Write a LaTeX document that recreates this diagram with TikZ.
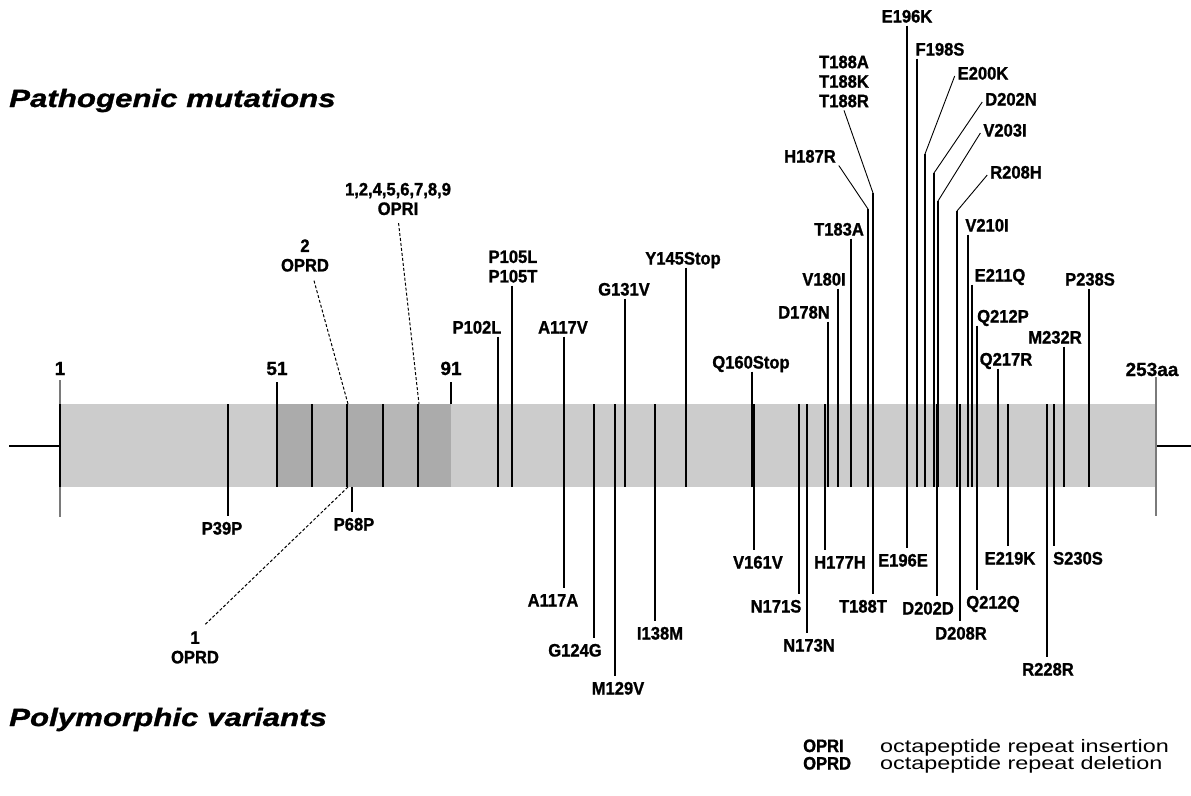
\documentclass[tikz,border=0pt]{standalone}
\usepackage{fontspec}
\setmainfont{Liberation Sans}
\newfontfamily\lblfont{Liberation Sans}[FakeStretch=0.92, BoldFeatures={FakeBold=1.2}]
\newfontfamily\numfont{Liberation Sans}[BoldFeatures={FakeBold=0.8}]
\newfontfamily\headfont{Liberation Sans}[FakeStretch=1.25, BoldItalicFeatures={FakeBold=1.2}]
\newfontfamily\legfont{Liberation Sans}[FakeStretch=1.3]
\usepackage{xcolor}
\usepackage{tikz}
\usetikzlibrary{positioning, calc}
\definecolor{barfill}{HTML}{CCCCCC}
\definecolor{repeatdark}{HTML}{ABABAB}
\definecolor{repeatlight}{HTML}{B7B7B7}
\definecolor{tickgray}{HTML}{7A7A7A}
\tikzset{
mutlabel/.style={
font=\lblfont\bfseries\fontsize{18}{19.5}\selectfont,
text height=13pt,
text depth=0pt,
inner sep=3pt,
outer sep=0pt
},
numlabel/.style={
font=\numfont\bfseries\fontsize{19}{20}\selectfont,
text height=14pt,
text depth=0pt,
inner sep=3pt,
outer sep=0pt
},
stacklabel/.style={
font=\lblfont\bfseries\fontsize{18}{19.5}\selectfont,
align=center,
inner sep=3pt,
outer sep=0pt
},
mutline/.style={
draw=black,
line width=1.1pt
},
leader/.style={
draw=black,
line width=0.9pt
},
oprdash/.style={
draw=black,
line width=1pt,
dash pattern=on 3pt off 2pt
},
endtick/.style={
draw=tickgray,
line width=1.2pt
},
headline/.style={
font=\headfont\bfseries\itshape\fontsize{25}{30}\selectfont,
anchor=base west,
inner sep=0pt
},
legendkey/.style={
font=\lblfont\bfseries\fontsize{18}{19.5}\selectfont,
anchor=base west,
inner sep=0pt
},
legendtext/.style={
font=\legfont\fontsize{18}{19.5}\selectfont,
anchor=base west,
inner sep=0pt
}
}

\begin{document}
\begin{tikzpicture}[x=1pt, y=-1pt]
\useasboundingbox (0,0) rectangle (1191,795);

% protein bar
\fill[barfill] (60,404) rectangle (1156,487);
\fill[repeatdark] (277,404) rectangle (312,487);
\fill[repeatlight] (312,404) rectangle (347,487);
\fill[repeatdark] (347,404) rectangle (383,487);
\fill[repeatlight] (383,404) rectangle (418,487);
\fill[repeatdark] (418,404) rectangle (451,487);
\foreach \x in {277, 312, 347, 383, 418} {
  \draw[mutline] (\x,404) -- (\x,487);
}
\draw[mutline] (60,404) -- (60,487);
\draw[line width=1.3pt] (9,446) -- (60,446);
\draw[line width=2pt] (1156,446) -- (1191,446);

% residue numbers
\node[numlabel] (n1) at (60,368) {1};
\node[numlabel] (n51) at (277,368) {51};
\node[numlabel] (n91) at (451,368) {91};
\node[numlabel] (n253) at (1152,369) {253aa};
\draw[endtick] (60,380) -- (60,404);
\draw[endtick] (60,487) -- (60,517);
\draw[mutline] (277,382) -- (277,404);
\draw[mutline] (451,382) -- (451,404);
\draw[endtick] (1156,377) -- (1156,516);

% residue positions on the bar
\foreach \r/\x in {102/498, 105/512, 117/564, 131/625, 145/686, 160/752,
  178/828, 180/838, 183/851, 187/868, 188/873, 196/907, 198/917,
  200/925, 202/934, 203/938, 208/957, 210/968, 211/972, 212/977,
  217/998, 232/1064, 238/1089} {
  \coordinate (b\r) at (\x,487);
}
\foreach \r/\x in {39/228, 124/594, 129/615, 138/655, 161/754, 171/799,
  173/807, 177/825, 188/873, 196/907, 202/937, 208/960, 212/977,
  219/1008, 228/1047, 230/1054} {
  \coordinate (t\r) at (\x,404);
}
\coordinate (t68) at (352,487);
\coordinate (t117) at (564,487);

% pathogenic mutations
\node[headline] (patho) at (9,107) {Pathogenic mutations};

\node[mutlabel] (P102L) at (477,327) {P102L};
\node[stacklabel] (P105) at (513,266.5) {P105L\\P105T};
\node[mutlabel] (A117V) at (563,327) {A117V};
\node[mutlabel] (G131V) at (624,289) {G131V};
\node[mutlabel] (Y145Stop) at (683,258) {Y145Stop};
\node[mutlabel] (Q160Stop) at (751,362) {Q160Stop};
\node[mutlabel] (D178N) at (804,312) {D178N};
\node[mutlabel] (V180I) at (824,279) {V180I};
\node[mutlabel] (T183A) at (839,229) {T183A};
\node[mutlabel] (H187R) at (810,156) {H187R};
\node[stacklabel] (T188) at (844,81.5) {T188A\\T188K\\T188R};
\node[mutlabel] (E196K) at (907,16) {E196K};
\node[mutlabel] (F198S) at (940,49) {F198S};
\node[mutlabel] (E200K) at (983,73) {E200K};
\node[mutlabel] (D202N) at (1011,99) {D202N};
\node[mutlabel] (V203I) at (1005,130) {V203I};
\node[mutlabel] (R208H) at (1016,172) {R208H};
\node[mutlabel] (V210I) at (987,225) {V210I};
\node[mutlabel] (E211Q) at (1000,275) {E211Q};
\node[mutlabel] (Q212P) at (1003,316) {Q212P};
\node[mutlabel] (Q217R) at (1006,359) {Q217R};
\node[mutlabel] (M232R) at (1055,337) {M232R};
\node[mutlabel] (P238S) at (1090,279) {P238S};
\node[stacklabel] (oprI) at (398,199) {1,2,4,5,6,7,8,9\\OPRI};
\node[stacklabel] (oprD2) at (305,255.5) {2\\OPRD};

\foreach \lbl/\r in {P102L/102, P105/105, A117V/117, G131V/131,
  Y145Stop/145, Q160Stop/160, D178N/178, V180I/180, T183A/183,
  E196K/196, F198S/198, V210I/210, E211Q/211, Q212P/212, Q217R/217,
  M232R/232, P238S/238} {
  \draw[mutline] (\lbl.south -| b\r) -- (b\r);
}
\draw[leader] (H187R.south east) -- (868,209) coordinate (k187);
\draw[mutline] (k187) -- (b187);
\draw[leader] (T188.south) -- (873,193) coordinate (k188);
\draw[mutline] (k188) -- (b188);
\draw[leader] ([yshift=-3pt]E200K.west) -- (925,154) coordinate (k200);
\draw[mutline] (k200) -- (b200);
\draw[leader] ([yshift=-3pt]D202N.west) -- (934,173) coordinate (k202);
\draw[mutline] (k202) -- (b202);
\draw[leader] ([yshift=-3pt]V203I.west) -- (938,201) coordinate (k203);
\draw[mutline] (k203) -- (b203);
\draw[leader] ([yshift=-3pt]R208H.west) -- (957,211) coordinate (k208);
\draw[mutline] (k208) -- (b208);
\coordinate (opriEnd) at (419,404);
\coordinate (oprd2End) at (348,404);
\draw[oprdash, shorten <=5pt] (oprI.south) -- (opriEnd);
\draw[oprdash] ($(oprD2.south)+(9,6)$) -- (oprd2End);

% polymorphic variants
\node[headline] (poly) at (9,726) {Polymorphic variants};

\node[mutlabel] (P39P) at (222,528) {P39P};
\node[mutlabel] (P68P) at (354,524) {P68P};
\node[mutlabel] (A117A) at (553,600) {A117A};
\node[mutlabel] (G124G) at (575,650) {G124G};
\node[mutlabel] (M129V) at (618,688) {M129V};
\node[mutlabel] (I138M) at (660,633) {I138M};
\node[mutlabel] (V161V) at (758,562) {V161V};
\node[mutlabel] (N171S) at (776,606) {N171S};
\node[mutlabel] (N173N) at (809,645) {N173N};
\node[mutlabel] (H177H) at (840,562) {H177H};
\node[mutlabel] (T188T) at (863,606) {T188T};
\node[mutlabel] (E196E) at (903,560) {E196E};
\node[mutlabel] (D202D) at (928,608) {D202D};
\node[mutlabel] (D208R) at (961,633) {D208R};
\node[mutlabel] (Q212Q) at (993,602) {Q212Q};
\node[mutlabel] (E219K) at (1010,558) {E219K};
\node[mutlabel] (R228R) at (1048,669) {R228R};
\node[mutlabel] (S230S) at (1078,558) {S230S};
\node[stacklabel] (oprD1) at (195,647.5) {1\\OPRD};

\foreach \lbl/\r in {P39P/39, P68P/68, A117A/117, G124G/124, M129V/129,
  I138M/138, V161V/161, N171S/171, N173N/173, H177H/177, T188T/188,
  E196E/196, D202D/202, D208R/208, Q212Q/212, E219K/219, R228R/228,
  S230S/230} {
  \draw[mutline, shorten >=3pt] (t\r) -- (t\r |- \lbl.north);
}
\coordinate (oprd1Start) at (348,487);
\draw[oprdash, shorten >=5pt] (oprd1Start) -- ($(oprD1.north)+(6,0)$);

% legend
\node[legendkey] (keyI) at (803,752) {OPRI};
\node[legendkey] (keyD) at (803,769.5) {OPRD};
\node[legendtext] (txtI) at (880,752) {octapeptide repeat insertion};
\node[legendtext] (txtD) at (880,769.5) {octapeptide repeat deletion};

\end{tikzpicture}
\end{document}
